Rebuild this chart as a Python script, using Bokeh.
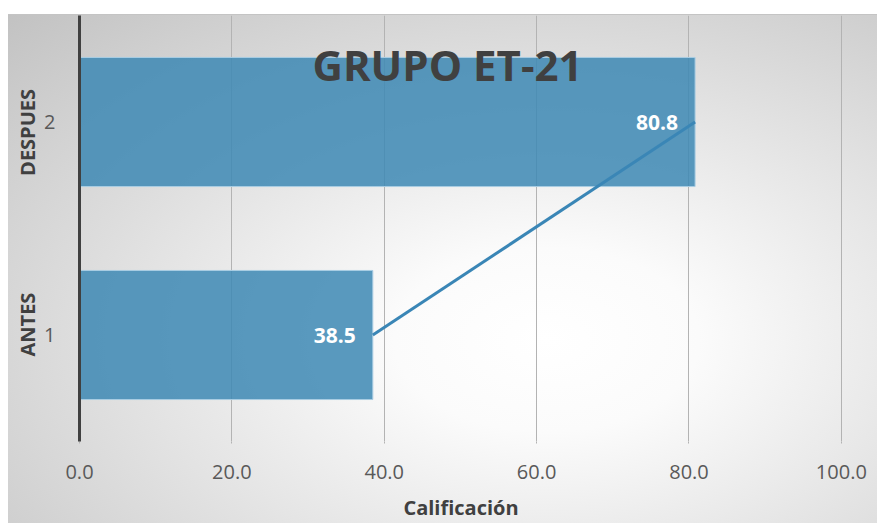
from bokeh.plotting import figure
from bokeh.models import (FactorRange, Range1d, ColumnDataSource, NumeralTickFormatter, Label,
                          FixedTicker, CategoricalAxis)
from bokeh.core.properties import value
from bokeh.embed import file_html
from bokeh.resources import INLINE

# ---- data ----
groups = ["ANTES", "DESPUES"]
subs = ["1", "2"]
scores = [38.5, 80.8]
x_ticks = [0, 20, 40, 60, 80, 100]
title_text = "GRUPO ET-21"
x_title = "Calificación"

src = ColumnDataSource(dict(
    y=subs,
    score=scores,
    label=[f"{v:.1f}" for v in scores],
))

FONT = "Open Sans"

p = figure(
    width=877, height=523,
    y_range=FactorRange(*subs, factor_padding=0, range_padding=0),
    x_range=Range1d(0, 100.15),
    output_backend="svg", toolbar_location=None,
    min_border_left=79, min_border_right=35, min_border_top=15, min_border_bottom=82,
)
p.extra_y_ranges = {"grp": FactorRange(*groups, factor_padding=0, range_padding=0.109)}
p.styles = {
    "background": "linear-gradient(#c4c4c4, #c4c4c4) 8px 14px / 869px 1px no-repeat, "
                  "radial-gradient(ellipse farthest-corner at 62% 64%, #ffffff 0%, #fbfbfb 20%, #c2c2c2 100%) "
                  "8px 14px / 869px 509px no-repeat, #ffffff"
}
p.border_fill_alpha = 0
p.background_fill_alpha = 0
p.outline_line_color = None

# bars
p.hbar(y="y", right="score", left=0, height=0.606, source=src,
       fill_color="#3d88b4", fill_alpha=0.85, line_color="#a9cde3", line_width=1)
# connecting line
p.line(x="score", y="y", source=src, line_color="#3a86b6", line_width=3)
# value labels
p.text(x="score", y="y", text="label", source=src, x_offset=-17,
       text_align="right", text_baseline="middle",
       text_font=value(FONT), text_font_style="bold", text_font_size="21px",
       text_color="#ffffff")

# title inside plot
p.add_layout(Label(x=48.3, y=1.77, text=title_text, text_align="center", text_baseline="middle",
                   text_font=FONT, text_font_style="bold", text_font_size="42px",
                   text_color="#404040"))

# grids
p.ygrid.grid_line_color = None
p.xgrid.grid_line_color = "#b3b3b3"
p.xgrid.grid_line_width = 1
p.xgrid.ticker = FixedTicker(ticks=x_ticks)

# x axis
xa = p.xaxis[0]
xa.ticker = FixedTicker(ticks=x_ticks)
xa.formatter = NumeralTickFormatter(format="0.0")
xa.axis_line_color = None
xa.major_tick_line_color = "#b3b3b3"
xa.major_tick_in = 0
xa.major_tick_out = 2
xa.minor_tick_line_color = None
xa.major_label_standoff = 21
xa.major_label_text_font = FONT
xa.major_label_text_font_size = "20px"
xa.major_label_text_color = "#595959"
xa.axis_label = x_title
xa.axis_label_text_font = FONT
xa.axis_label_text_font_size = "20px"
xa.axis_label_text_font_style = "bold"
xa.axis_label_text_color = "#404040"
xa.axis_label_standoff = 12

# y axis (sub labels 1, 2)
ya = p.yaxis[0]
ya.axis_line_color = "#404040"
ya.axis_line_width = 3
ya.major_tick_line_color = None
ya.minor_tick_line_color = None
ya.major_label_standoff = 18
ya.major_label_text_font = FONT
ya.major_label_text_font_size = "20px"
ya.major_label_text_color = "#595959"
ya.major_label_orientation = "horizontal"

# outer y axis (group labels ANTES / DESPUES)
ga = CategoricalAxis(
    y_range_name="grp",
    axis_line_color=None, major_tick_line_color=None, minor_tick_line_color=None,
    major_label_orientation="vertical",
    major_label_standoff=-6,
    major_label_text_font=FONT, major_label_text_font_size="20px",
    major_label_text_font_style="bold", major_label_text_color="#404040",
)
p.add_layout(ga, "left")

open("out.html", "w").write(file_html(p, INLINE))
